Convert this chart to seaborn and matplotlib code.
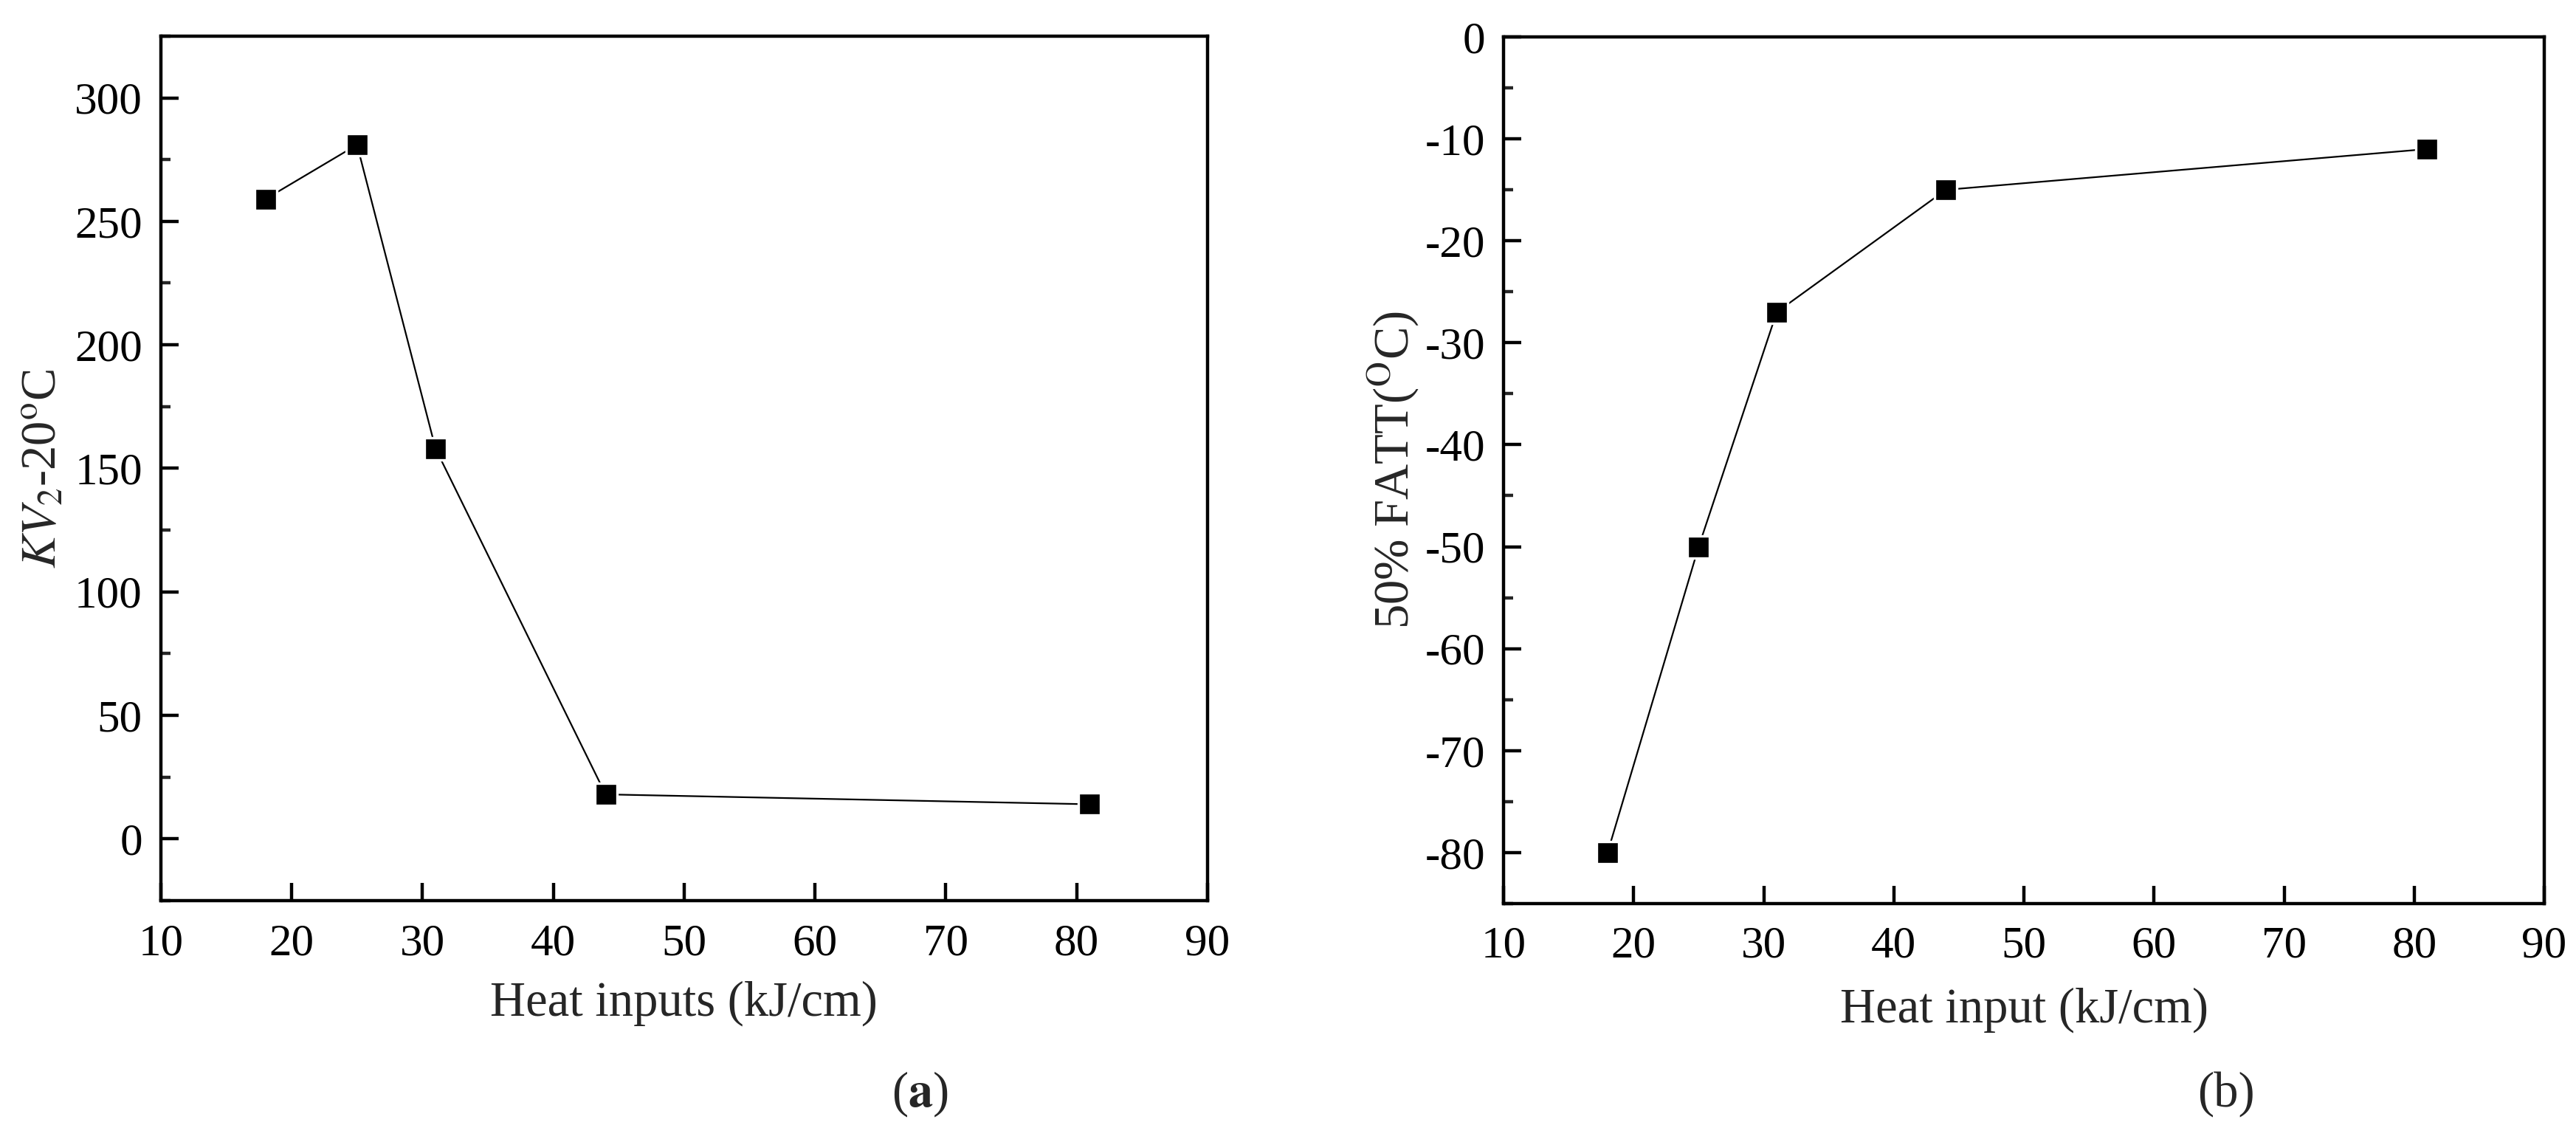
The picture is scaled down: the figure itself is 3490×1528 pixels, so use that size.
import matplotlib
matplotlib.use('Agg')
import matplotlib.pyplot as plt
from matplotlib.ticker import MultipleLocator
import seaborn as sns
import pandas as pd

heat_input = [18, 25, 31, 44, 81]
kv2 = [259, 281, 158, 18, 14]
fatt = [-80, -50, -27, -15, -11]

sns.set_style('ticks')
plt.rcParams['font.family'] = ['Liberation Serif', 'DejaVu Serif']
plt.rcParams['mathtext.fontset'] = 'stix'
plt.rcParams['axes.unicode_minus'] = False

fig = plt.figure(figsize=(3491 / 200, 1528 / 200), dpi=200)
ax1 = fig.add_axes([0.0624, 0.2016, 0.4062, 0.7664])
ax2 = fig.add_axes([0.5835, 0.199, 0.4039, 0.7683])

df = pd.DataFrame({'x': heat_input, 'kv': kv2, 'fatt': fatt})

for ax, col in [(ax1, 'kv'), (ax2, 'fatt')]:
    sns.lineplot(data=df, x='x', y=col, ax=ax, color='black', linewidth=0.8,
                 marker='s', markersize=10.5, markerfacecolor='black',
                 markeredgecolor='white', markeredgewidth=1.2)
    ax.set_xlim(10, 90)
    ax.xaxis.set_major_locator(MultipleLocator(10))
    for s in ax.spines.values():
        s.set_linewidth(1.6)
        s.set_color('black')
    ax.tick_params(axis='both', which='major', direction='in', length=8.5, width=1.6,
                   labelsize=22, colors='black')
    ax.tick_params(axis='y', which='major', pad=9)
    ax.tick_params(axis='x', which='major', pad=11)
    ax.tick_params(axis='y', which='minor', direction='in', length=4.5, width=1.6)

ax1.set_ylim(-25, 325)
ax1.yaxis.set_major_locator(MultipleLocator(50))
ax1.yaxis.set_minor_locator(MultipleLocator(25))
ax1.set_xlabel('Heat inputs (kJ/cm)', fontsize=24, labelpad=8)
ax1.set_ylabel(r'$KV_2$-20$^{\mathrm{o}}$C', fontsize=24, labelpad=4)

ax2.set_ylim(-85, 0)
ax2.yaxis.set_major_locator(MultipleLocator(10))
ax2.yaxis.set_minor_locator(MultipleLocator(5))
ax2.set_xlabel('Heat input (kJ/cm)', fontsize=24, labelpad=10)
ax2.set_ylabel(r'50% FATT($^{\mathrm{O}}$C)', fontsize=24, labelpad=2)

fig.text(0.357, 0.03, '(' + r'$\mathbf{a}$' + ')', fontsize=24, ha='center', va='center')
fig.text(0.864, 0.03, '(b)', fontsize=24, ha='center', va='center')

fig.savefig('out.png', dpi=200, facecolor='white')
